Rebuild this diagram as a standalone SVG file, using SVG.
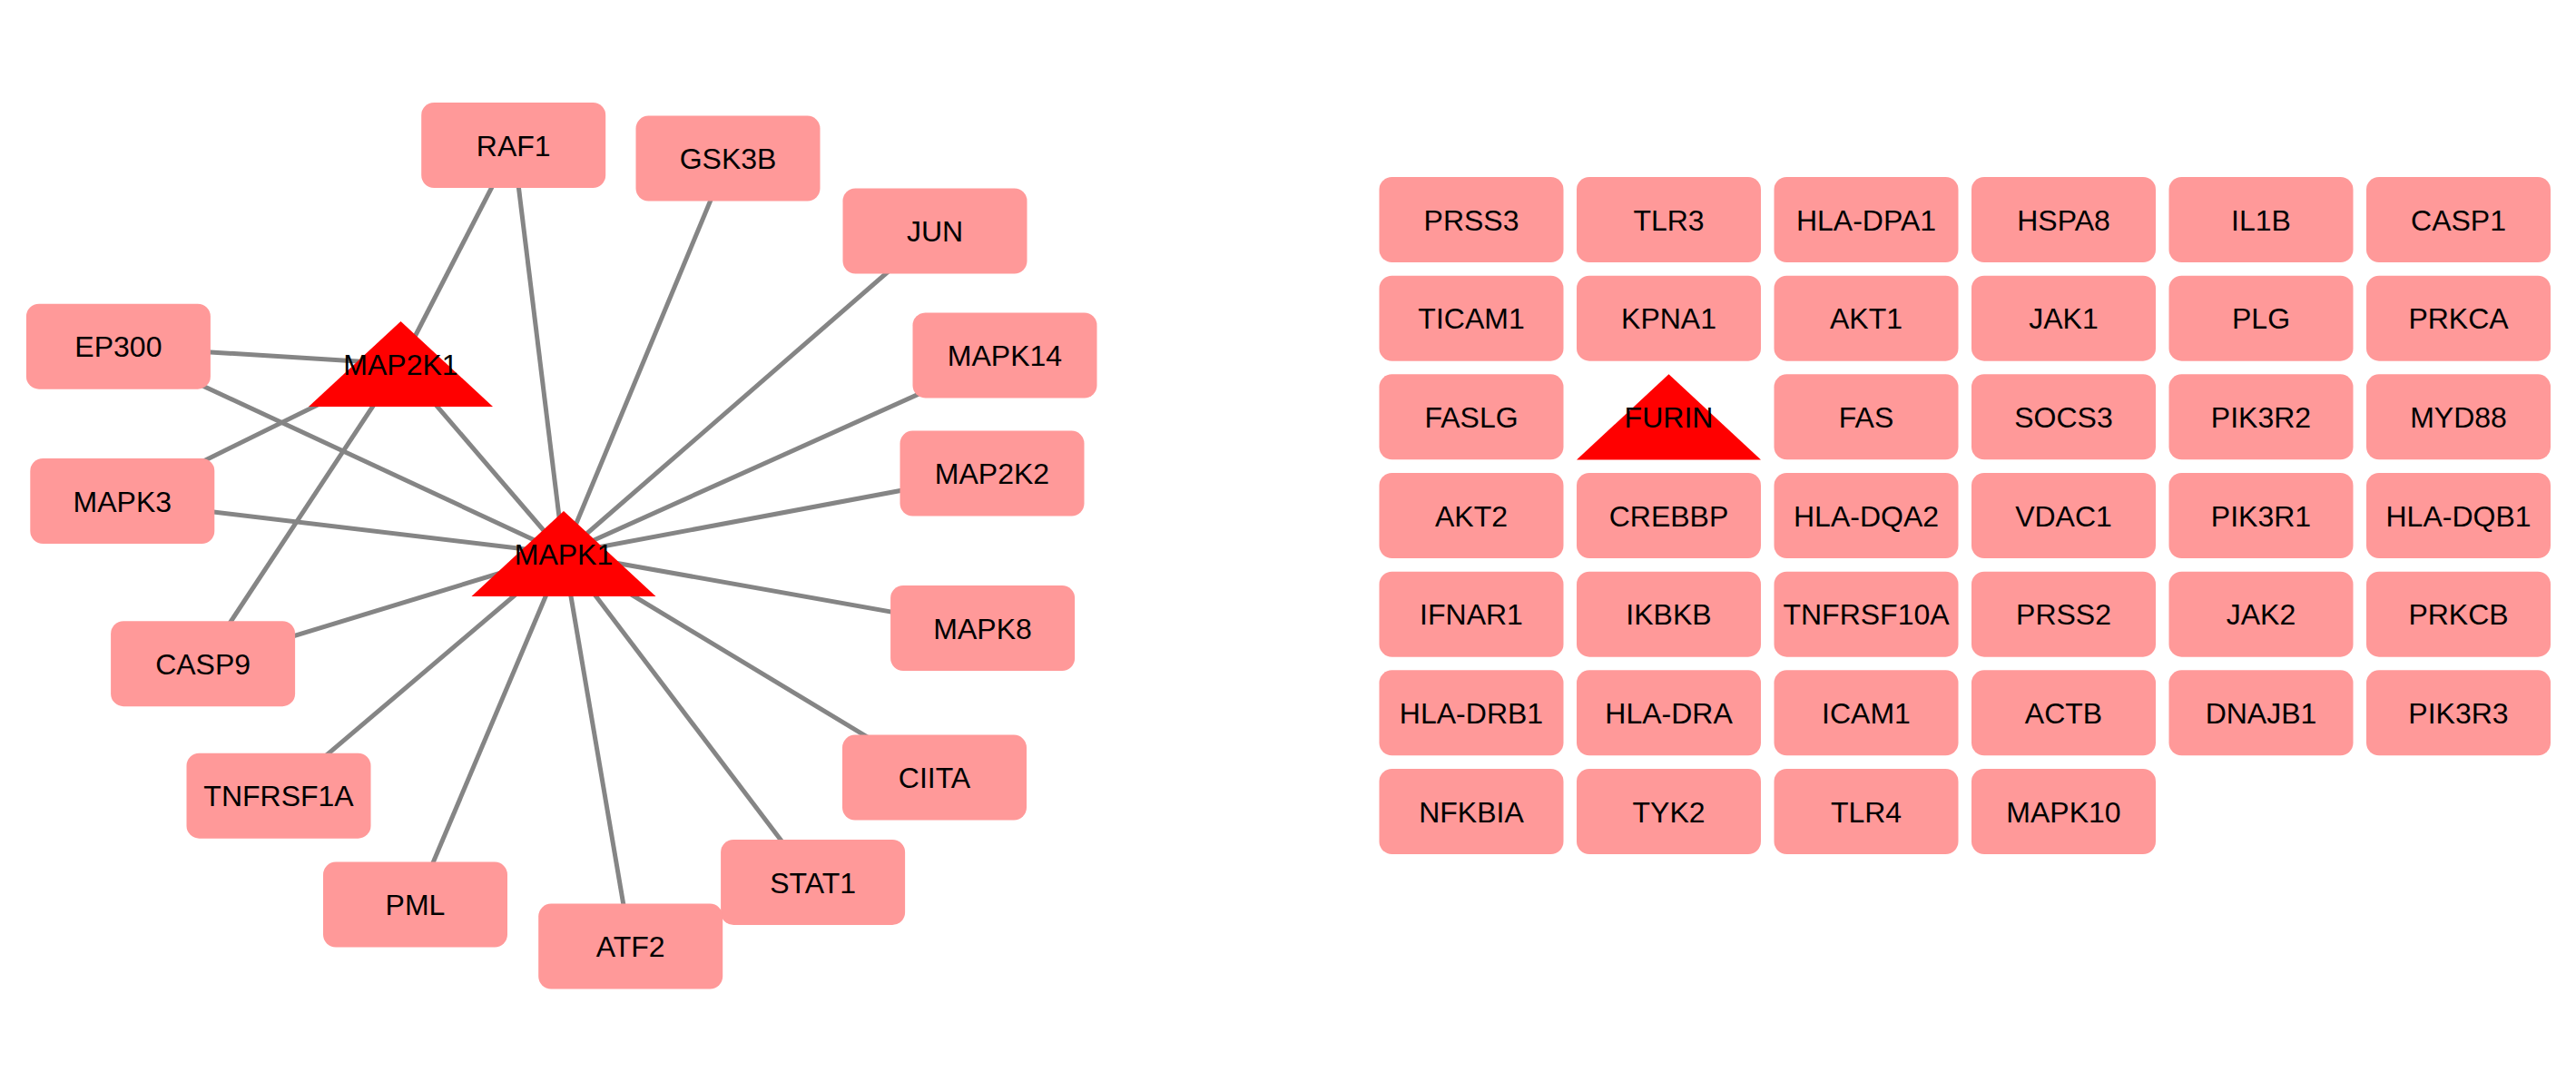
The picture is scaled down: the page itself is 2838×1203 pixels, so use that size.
<svg xmlns="http://www.w3.org/2000/svg" width="2838" height="1203" viewBox="0 0 2838 1203">
<style>
.box{fill:#FF9999;}
.tri{fill:#FF0000;}
.lbl{font-family:"Liberation Sans",Arial,sans-serif;font-size:32px;fill:#000;text-anchor:middle;}
.edge{stroke:#858585;stroke-width:5;fill:none;}
</style>
<rect width="2838" height="1203" fill="#fff"/>
<g id="connectors">
<line class="edge" x1="621" y1="610" x2="565.7" y2="160"/>
<line class="edge" x1="621" y1="610" x2="802" y2="174.6"/>
<line class="edge" x1="621" y1="610" x2="1030" y2="254.5"/>
<line class="edge" x1="621" y1="610" x2="1107" y2="391.5"/>
<line class="edge" x1="621" y1="610" x2="1093" y2="521.6"/>
<line class="edge" x1="621" y1="610" x2="1082.6" y2="692"/>
<line class="edge" x1="621" y1="610" x2="1029.5" y2="856.6"/>
<line class="edge" x1="621" y1="610" x2="895.6" y2="972"/>
<line class="edge" x1="621" y1="610" x2="694.7" y2="1042.6"/>
<line class="edge" x1="621" y1="610" x2="457.5" y2="996.6"/>
<line class="edge" x1="621" y1="610" x2="307" y2="876.7"/>
<line class="edge" x1="621" y1="610" x2="223.6" y2="731.2"/>
<line class="edge" x1="621" y1="610" x2="134.8" y2="552"/>
<line class="edge" x1="621" y1="610" x2="130.4" y2="381.7"/>
<line class="edge" x1="621" y1="610" x2="441.5" y2="401"/>
<line class="edge" x1="441.5" y1="401" x2="565.7" y2="160"/>
<line class="edge" x1="441.5" y1="401" x2="130.4" y2="381.7"/>
<line class="edge" x1="441.5" y1="401" x2="134.8" y2="552"/>
<line class="edge" x1="441.5" y1="401" x2="223.6" y2="731.2"/>
</g>
<g id="RAF1"><rect class="box" x="464.2" y="113" width="203" height="94" rx="14"/><text class="lbl" x="565.7" y="171.5">RAF1</text></g>
<g id="GSK3B"><rect class="box" x="700.5" y="127.6" width="203" height="94" rx="14"/><text class="lbl" x="802" y="186.1">GSK3B</text></g>
<g id="JUN"><rect class="box" x="928.5" y="207.5" width="203" height="94" rx="14"/><text class="lbl" x="1030" y="266">JUN</text></g>
<g id="MAPK14"><rect class="box" x="1005.5" y="344.5" width="203" height="94" rx="14"/><text class="lbl" x="1107" y="403">MAPK14</text></g>
<g id="MAP2K2"><rect class="box" x="991.5" y="474.6" width="203" height="94" rx="14"/><text class="lbl" x="1093" y="533.1">MAP2K2</text></g>
<g id="MAPK8"><rect class="box" x="981.1" y="645" width="203" height="94" rx="14"/><text class="lbl" x="1082.6" y="703.5">MAPK8</text></g>
<g id="CIITA"><rect class="box" x="928" y="809.6" width="203" height="94" rx="14"/><text class="lbl" x="1029.5" y="868.1">CIITA</text></g>
<g id="STAT1"><rect class="box" x="794.1" y="925" width="203" height="94" rx="14"/><text class="lbl" x="895.6" y="983.5">STAT1</text></g>
<g id="ATF2"><rect class="box" x="593.2" y="995.6" width="203" height="94" rx="14"/><text class="lbl" x="694.7" y="1054.1">ATF2</text></g>
<g id="PML"><rect class="box" x="356" y="949.6" width="203" height="94" rx="14"/><text class="lbl" x="457.5" y="1008.1">PML</text></g>
<g id="TNFRSF1A"><rect class="box" x="205.5" y="829.7" width="203" height="94" rx="14"/><text class="lbl" x="307" y="888.2">TNFRSF1A</text></g>
<g id="CASP9"><rect class="box" x="122.1" y="684.2" width="203" height="94" rx="14"/><text class="lbl" x="223.6" y="742.7">CASP9</text></g>
<g id="MAPK3"><rect class="box" x="33.3" y="505" width="203" height="94" rx="14"/><text class="lbl" x="134.8" y="563.5">MAPK3</text></g>
<g id="EP300"><rect class="box" x="28.9" y="334.7" width="203" height="94" rx="14"/><text class="lbl" x="130.4" y="393.2">EP300</text></g>
<g id="MAP2K1"><polygon class="tri" points="441.5,354 340,448 543,448"/><text class="lbl" x="441.5" y="412.5">MAP2K1</text></g>
<g id="MAPK1"><polygon class="tri" points="621,563 519.5,657 722.5,657"/><text class="lbl" x="621" y="621.5">MAPK1</text></g>

<g id="PRSS3"><rect class="box" x="1519.5" y="195" width="203" height="94" rx="14"/><text class="lbl" x="1621" y="253.5">PRSS3</text></g>
<g id="TLR3"><rect class="box" x="1737" y="195" width="203" height="94" rx="14"/><text class="lbl" x="1838.5" y="253.5">TLR3</text></g>
<g id="HLA-DPA1"><rect class="box" x="1954.5" y="195" width="203" height="94" rx="14"/><text class="lbl" x="2056" y="253.5">HLA-DPA1</text></g>
<g id="HSPA8"><rect class="box" x="2172" y="195" width="203" height="94" rx="14"/><text class="lbl" x="2273.5" y="253.5">HSPA8</text></g>
<g id="IL1B"><rect class="box" x="2389.5" y="195" width="203" height="94" rx="14"/><text class="lbl" x="2491" y="253.5">IL1B</text></g>
<g id="CASP1"><rect class="box" x="2607" y="195" width="203" height="94" rx="14"/><text class="lbl" x="2708.5" y="253.5">CASP1</text></g>

<g id="TICAM1"><rect class="box" x="1519.5" y="303.7" width="203" height="94" rx="14"/><text class="lbl" x="1621" y="362.2">TICAM1</text></g>
<g id="KPNA1"><rect class="box" x="1737" y="303.7" width="203" height="94" rx="14"/><text class="lbl" x="1838.5" y="362.2">KPNA1</text></g>
<g id="AKT1"><rect class="box" x="1954.5" y="303.7" width="203" height="94" rx="14"/><text class="lbl" x="2056" y="362.2">AKT1</text></g>
<g id="JAK1"><rect class="box" x="2172" y="303.7" width="203" height="94" rx="14"/><text class="lbl" x="2273.5" y="362.2">JAK1</text></g>
<g id="PLG"><rect class="box" x="2389.5" y="303.7" width="203" height="94" rx="14"/><text class="lbl" x="2491" y="362.2">PLG</text></g>
<g id="PRKCA"><rect class="box" x="2607" y="303.7" width="203" height="94" rx="14"/><text class="lbl" x="2708.5" y="362.2">PRKCA</text></g>

<g id="FASLG"><rect class="box" x="1519.5" y="412.3" width="203" height="94" rx="14"/><text class="lbl" x="1621" y="470.8">FASLG</text></g>
<g id="FURIN"><polygon class="tri" points="1838.5,412.3 1737,506.5 1940,506.5"/><text class="lbl" x="1838.5" y="470.8">FURIN</text></g>
<g id="FAS"><rect class="box" x="1954.5" y="412.3" width="203" height="94" rx="14"/><text class="lbl" x="2056" y="470.8">FAS</text></g>
<g id="SOCS3"><rect class="box" x="2172" y="412.3" width="203" height="94" rx="14"/><text class="lbl" x="2273.5" y="470.8">SOCS3</text></g>
<g id="PIK3R2"><rect class="box" x="2389.5" y="412.3" width="203" height="94" rx="14"/><text class="lbl" x="2491" y="470.8">PIK3R2</text></g>
<g id="MYD88"><rect class="box" x="2607" y="412.3" width="203" height="94" rx="14"/><text class="lbl" x="2708.5" y="470.8">MYD88</text></g>

<g id="AKT2"><rect class="box" x="1519.5" y="521" width="203" height="94" rx="14"/><text class="lbl" x="1621" y="579.5">AKT2</text></g>
<g id="CREBBP"><rect class="box" x="1737" y="521" width="203" height="94" rx="14"/><text class="lbl" x="1838.5" y="579.5">CREBBP</text></g>
<g id="HLA-DQA2"><rect class="box" x="1954.5" y="521" width="203" height="94" rx="14"/><text class="lbl" x="2056" y="579.5">HLA-DQA2</text></g>
<g id="VDAC1"><rect class="box" x="2172" y="521" width="203" height="94" rx="14"/><text class="lbl" x="2273.5" y="579.5">VDAC1</text></g>
<g id="PIK3R1"><rect class="box" x="2389.5" y="521" width="203" height="94" rx="14"/><text class="lbl" x="2491" y="579.5">PIK3R1</text></g>
<g id="HLA-DQB1"><rect class="box" x="2607" y="521" width="203" height="94" rx="14"/><text class="lbl" x="2708.5" y="579.5">HLA-DQB1</text></g>

<g id="IFNAR1"><rect class="box" x="1519.5" y="629.7" width="203" height="94" rx="14"/><text class="lbl" x="1621" y="688.2">IFNAR1</text></g>
<g id="IKBKB"><rect class="box" x="1737" y="629.7" width="203" height="94" rx="14"/><text class="lbl" x="1838.5" y="688.2">IKBKB</text></g>
<g id="TNFRSF10A"><rect class="box" x="1954.5" y="629.7" width="203" height="94" rx="14"/><text class="lbl" x="2056" y="688.2">TNFRSF10A</text></g>
<g id="PRSS2"><rect class="box" x="2172" y="629.7" width="203" height="94" rx="14"/><text class="lbl" x="2273.5" y="688.2">PRSS2</text></g>
<g id="JAK2"><rect class="box" x="2389.5" y="629.7" width="203" height="94" rx="14"/><text class="lbl" x="2491" y="688.2">JAK2</text></g>
<g id="PRKCB"><rect class="box" x="2607" y="629.7" width="203" height="94" rx="14"/><text class="lbl" x="2708.5" y="688.2">PRKCB</text></g>

<g id="HLA-DRB1"><rect class="box" x="1519.5" y="738.3" width="203" height="94" rx="14"/><text class="lbl" x="1621" y="796.8">HLA-DRB1</text></g>
<g id="HLA-DRA"><rect class="box" x="1737" y="738.3" width="203" height="94" rx="14"/><text class="lbl" x="1838.5" y="796.8">HLA-DRA</text></g>
<g id="ICAM1"><rect class="box" x="1954.5" y="738.3" width="203" height="94" rx="14"/><text class="lbl" x="2056" y="796.8">ICAM1</text></g>
<g id="ACTB"><rect class="box" x="2172" y="738.3" width="203" height="94" rx="14"/><text class="lbl" x="2273.5" y="796.8">ACTB</text></g>
<g id="DNAJB1"><rect class="box" x="2389.5" y="738.3" width="203" height="94" rx="14"/><text class="lbl" x="2491" y="796.8">DNAJB1</text></g>
<g id="PIK3R3"><rect class="box" x="2607" y="738.3" width="203" height="94" rx="14"/><text class="lbl" x="2708.5" y="796.8">PIK3R3</text></g>

<g id="NFKBIA"><rect class="box" x="1519.5" y="847" width="203" height="94" rx="14"/><text class="lbl" x="1621" y="905.5">NFKBIA</text></g>
<g id="TYK2"><rect class="box" x="1737" y="847" width="203" height="94" rx="14"/><text class="lbl" x="1838.5" y="905.5">TYK2</text></g>
<g id="TLR4"><rect class="box" x="1954.5" y="847" width="203" height="94" rx="14"/><text class="lbl" x="2056" y="905.5">TLR4</text></g>
<g id="MAPK10"><rect class="box" x="2172" y="847" width="203" height="94" rx="14"/><text class="lbl" x="2273.5" y="905.5">MAPK10</text></g>
</svg>
